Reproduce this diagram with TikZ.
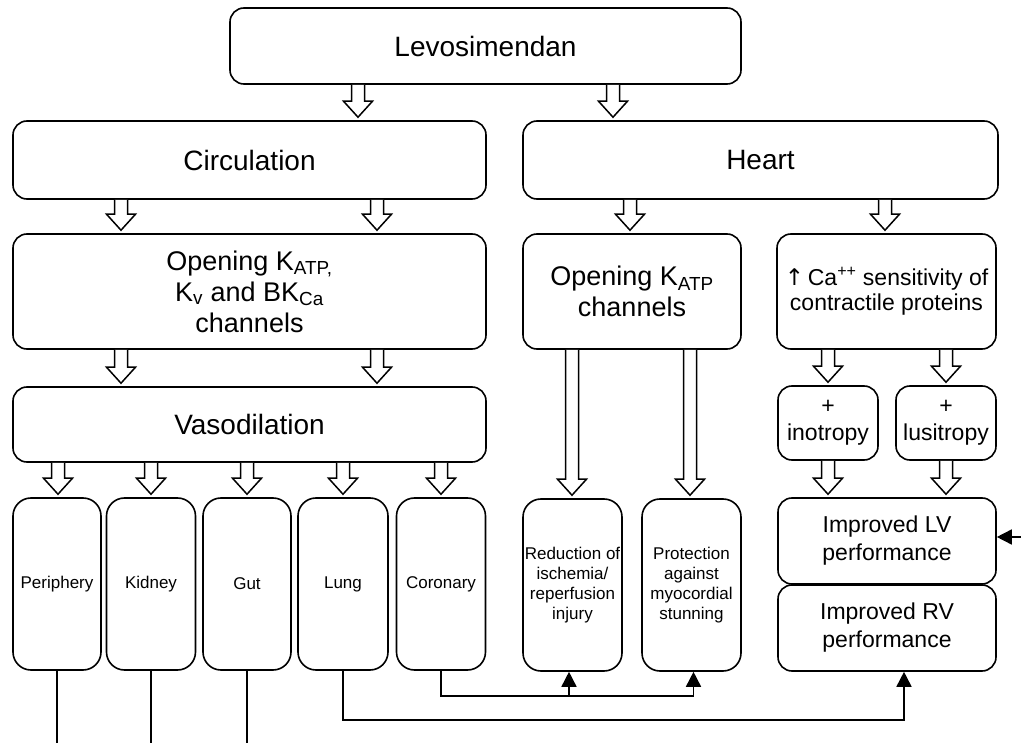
\documentclass[tikz,border=0pt]{standalone}
\usepackage{fontspec}
\setmainfont{Liberation Sans}
\newfontfamily\symfont{DejaVu Sans}
\usetikzlibrary{arrows.meta,calc}
\tikzset{
  box/.style={draw, line width=1.6pt, rounded corners=14pt, align=center, inner sep=0pt, fill=white},
  tall/.style={box, rounded corners=18pt},
  big/.style={font=\fontsize{28}{32}\selectfont},
  mid/.style={font=\fontsize{27}{31}\selectfont},
  med/.style={font=\fontsize{23}{28}\selectfont},
  sml/.style={font=\fontsize{17}{20}\selectfont},
  hollow/.style={draw, line width=1.5pt, fill=white, line join=miter},
  conn/.style={draw, line width=1.6pt},
  tip/.style={-{Triangle[length=15pt,width=15pt]}}
}
\newcommand\barr[3]{\draw[hollow] let \p1=(#2.south), \p2=(#3.north) in
  (#1pt-6.5pt,\y1) -- (#1pt-6.5pt,\y2+19pt) -- (#1pt-14.5pt,\y2+19pt) -- (#1pt,\y2+3pt)
  -- (#1pt+14.5pt,\y2+19pt) -- (#1pt+6.5pt,\y2+19pt) -- (#1pt+6.5pt,\y1);}
\begin{document}
\begin{tikzpicture}[x=1pt,y=-1pt]
\useasboundingbox (0,0) rectangle (1021,743);

% top level
\node[box,big,minimum width=511pt,minimum height=76pt] (lev) at (485.5,46) {Levosimendan};
\node[box,big,minimum width=473pt,minimum height=78pt] (circ) at (249.5,160) {Circulation};
\node[box,big,minimum width=475pt,minimum height=78pt] (heart) at (760.5,160) {Heart};

% second level
\node[box,mid,minimum width=473pt,minimum height=115pt] (openc) at (249.5,291.5)
  {Opening K\textsubscript{ATP,}\\K\textsubscript{v} and BK\textsubscript{Ca}\\channels};
\node[box,mid,minimum width=218pt,minimum height=115pt] (openh) at (632,291.5)
  {Opening K\textsubscript{ATP}\\channels};
\node[box,font=\fontsize{23}{25}\selectfont,minimum width=219pt,minimum height=115pt] (ca) at (886.5,291.5)
  {{\symfont ↑}\,Ca\textsuperscript{++} sensitivity of\\contractile proteins};

% third level
\node[box,big,minimum width=473pt,minimum height=75pt] (vaso) at (249.5,424.5) {Vasodilation};
\node[box,font=\fontsize{23}{27}\selectfont,minimum width=100pt,minimum height=74pt] (ino) at (828,423) {+\\inotropy};
\node[box,font=\fontsize{23}{27}\selectfont,minimum width=100pt,minimum height=74pt] (lusi) at (946,423) {+\\lusitropy};

% bottom level
\node[tall,sml,minimum width=88pt,minimum height=172pt] (per) at (57,584) {Periphery};
\node[tall,sml,minimum width=89pt,minimum height=172pt] (kid) at (151,584) {Kidney};
\node[tall,sml,minimum width=88pt,minimum height=172pt] (gut) at (247,584) {Gut};
\node[tall,sml,minimum width=90pt,minimum height=172pt] (lung) at (343,584) {Lung};
\node[tall,sml,minimum width=89pt,minimum height=172pt] (cor) at (441,584) {Coronary};
\node[tall,sml,minimum width=99pt,minimum height=172pt] (red) at (572.5,585)
  {Reduction of\\ischemia/\\reperfusion\\injury};
\node[tall,sml,minimum width=99pt,minimum height=172pt] (prot) at (691.5,585)
  {Protection\\against\\myocordial\\stunning};
\node[box,med,minimum width=218pt,minimum height=86pt] (lv) at (887,541) {Improved LV\\performance};
\node[box,med,minimum width=218pt,minimum height=86pt] (rv) at (887,628) {Improved RV\\performance};

% hollow block arrows
\barr{358}{lev}{circ}
\barr{613}{lev}{heart}
\barr{121}{circ}{openc}
\barr{377}{circ}{openc}
\barr{630}{heart}{openh}
\barr{885}{heart}{ca}
\barr{121}{openc}{vaso}
\barr{377}{openc}{vaso}
\barr{58}{vaso}{per}
\barr{151}{vaso}{kid}
\barr{247}{vaso}{gut}
\barr{343}{vaso}{lung}
\barr{441}{vaso}{cor}
\barr{572}{openh}{red}
\barr{690}{openh}{prot}
\barr{828}{ca}{ino}
\barr{946}{ca}{lusi}
\barr{828}{ino}{lv}
\barr{946}{lusi}{lv}

% plain connectors
\coordinate (bottom) at (0,743);
\coordinate (rin) at (1021,537);
\draw[conn] (per.south) -- (per.south |- bottom);
\draw[conn] (kid.south) -- (kid.south |- bottom);
\draw[conn] (gut.south) -- (gut.south |- bottom);
\draw[conn,tip] (lung.south) |- ($(rv.south)+(17,48)$) -- ($(rv.south)+(17,0)$);
\draw[conn,tip] (cor.south) |- ($(prot.south)+(2,24)$) -- ($(prot.south)+(2,0)$);
\draw[conn,tip] ($(red.south)+(-3.5,24)$) -- ($(red.south)+(-3.5,0)$);
\draw[conn,tip] (rin) -- (lv.east |- rin);
\end{tikzpicture}
\end{document}
